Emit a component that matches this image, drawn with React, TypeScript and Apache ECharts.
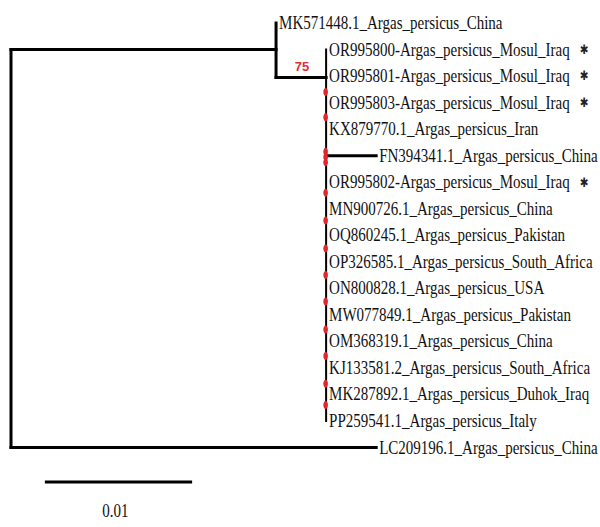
import React, { useEffect, useRef } from "react";
import * as echarts from "echarts";

// ---- Tree data ----
const tipNames = [
  "MK571448.1_Argas_persicus_China",
  "OR995800-Argas_persicus_Mosul_Iraq",
  "OR995801-Argas_persicus_Mosul_Iraq",
  "OR995803-Argas_persicus_Mosul_Iraq",
  "KX879770.1_Argas_persicus_Iran",
  "FN394341.1_Argas_persicus_China",
  "OR995802-Argas_persicus_Mosul_Iraq",
  "MN900726.1_Argas_persicus_China",
  "OQ860245.1_Argas_persicus_Pakistan",
  "OP326585.1_Argas_persicus_South_Africa",
  "ON800828.1_Argas_persicus_USA",
  "MW077849.1_Argas_persicus_Pakistan",
  "OM368319.1_Argas_persicus_China",
  "KJ133581.2_Argas_persicus_South_Africa",
  "MK287892.1_Argas_persicus_Duhok_Iraq",
  "PP259541.1_Argas_persicus_Italy",
  "LC209196.1_Argas_persicus_China",
];
const tipParent = ["A", "B", "B", "B", "B", "B", "B", "B", "B", "B", "B", "B", "B", "B", "B", "B", "root"];
const tipBranch = [0, 0, 0, 0, 0, 0.0034, 0, 0, 0, 0, 0, 0, 0, 0, 0, 0, 0.0248];
const tipMarked = [false, true, true, true, false, false, true, false, false, false, false, false, false, false, false, false, false];

const nodeIds = ["root", "A", "B"];
const nodeParent = [null, "root", "A"];
const nodeBranch = [0, 0.018, 0.0034];
const nodeRow = [8.5, 1.0, 2.05];
const nodeSupport = [null, null, 75];

// tiny, unreadable support marks along clade B
const minorSupportRows = [2.6, 3.55, 4.85, 5.05, 5.25, 6.4, 7.45, 8.5, 9.5, 10.5, 11.55, 12.55, 13.6, 14.4];

const scaleBarLength = 0.01;
const scaleBarLabel = "0.01";
const scaleBarStart = 0.0023;
const scaleBarRow = 17.3;

const SERIF = "'Liberation Serif', 'Times New Roman', serif";
const ROW = 27.3;

export default function App() {
  const ref = useRef<HTMLDivElement>(null);

  useEffect(() => {
    if (!ref.current) return;
    const chart = echarts.init(ref.current, null, { renderer: "svg" });

    const nodeX: Record<string, number> = {};
    nodeIds.forEach((id, i) => {
      const p = nodeParent[i];
      nodeX[id] = (p ? nodeX[p] : 0) + nodeBranch[i];
    });
    const tipX = tipNames.map((_, i) => nodeX[tipParent[i]] + tipBranch[i]);

    const segments: number[][] = [];
    tipNames.forEach((_, i) => {
      if (tipBranch[i] > 0) segments.push([nodeX[tipParent[i]], i, tipX[i], i, 3]);
    });
    nodeIds.forEach((id, i) => {
      const p = nodeParent[i];
      if (p) segments.push([nodeX[p], nodeRow[i], nodeX[id], nodeRow[i], 3]);
      const rows: number[] = [];
      tipParent.forEach((tp, t) => { if (tp === id) rows.push(t); });
      nodeParent.forEach((np, k) => { if (np === id) rows.push(nodeRow[k]); });
      segments.push([nodeX[id], Math.min(...rows), nodeX[id], Math.max(...rows), id === "B" ? 2 : 3]);
    });

    const supports: (number | string)[][] = [];
    nodeIds.forEach((id, i) => {
      const s = nodeSupport[i];
      const p = nodeParent[i];
      if (s != null && p) supports.push([(nodeX[p] + nodeX[id]) / 2, nodeRow[i], s]);
    });

    const labels = tipNames.map((n, i) => [tipX[i], i, i]);

    chart.setOption({
      animation: false,
      grid: { left: 11, top: 23, width: 592, height: 19 * ROW },
      xAxis: { type: "value", min: 0, max: 0.04, show: false },
      yAxis: { type: "value", min: 0, max: 19, inverse: true, show: false },
      series: [
        {
          type: "custom",
          data: segments,
          encode: { x: [0, 2], y: [1, 3] },
          renderItem: (params: any, api: any) => {
            const a = api.coord([api.value(0), api.value(1)]);
            const b = api.coord([api.value(2), api.value(3)]);
            return {
              type: "line",
              shape: { x1: a[0], y1: a[1], x2: b[0], y2: b[1] },
              style: { stroke: "#000", lineWidth: api.value(4), lineCap: "square" },
            };
          },
        },
        {
          type: "custom",
          data: minorSupportRows.map((r) => [nodeX["B"], r]),
          encode: { x: 0, y: 1 },
          renderItem: (params: any, api: any) => {
            const c = api.coord([api.value(0), api.value(1)]);
            return {
              type: "ellipse",
              shape: { cx: c[0] - 0.5, cy: c[1], rx: 2.3, ry: 4 },
              style: { fill: "#e3262c" },
            };
          },
        },
        {
          type: "custom",
          data: supports,
          encode: { x: 0, y: 1 },
          renderItem: (params: any, api: any) => {
            const c = api.coord([api.value(0), api.value(1)]);
            return {
              type: "text",
              x: c[0] + 1,
              y: c[1] - 4,
              style: {
                text: String(api.value(2)),
                font: "bold 13px 'Liberation Sans', Arial, sans-serif",
                fill: "#e03036",
                align: "center",
                verticalAlign: "bottom",
              },
            };
          },
        },
        {
          type: "custom",
          data: labels,
          encode: { x: 0, y: 1 },
          renderItem: (params: any, api: any) => {
            const i = api.value(2);
            const c = api.coord([api.value(0), api.value(1)]);
            const txt = "{n|" + tipNames[i] + "}" + (tipMarked[i] ? "{s|✱}" : "");
            return {
              type: "text",
              x: c[0] + 3,
              y: c[1],
              scaleX: 0.79,
              style: {
                text: txt,
                align: "left",
                verticalAlign: "middle",
                rich: {
                  n: { fontFamily: SERIF, fontSize: 19, fill: "#111" },
                  s: { fontFamily: "'DejaVu Sans', sans-serif", fontSize: 13, fill: "#222", padding: [0, 0, 0, 13] },
                },
              },
            };
          },
        },
        {
          type: "custom",
          data: [[scaleBarStart, scaleBarRow, scaleBarLength]],
          encode: { x: 0, y: 1 },
          renderItem: (params: any, api: any) => {
            const a = api.coord([api.value(0), api.value(1)]);
            const b = api.coord([api.value(0) + api.value(2), api.value(1)]);
            return {
              type: "group",
              children: [
                {
                  type: "line",
                  shape: { x1: a[0], y1: a[1], x2: b[0], y2: b[1] },
                  style: { stroke: "#000", lineWidth: 3 },
                },
                {
                  type: "text",
                  x: (a[0] + b[0]) / 2 - 3,
                  y: a[1] + 29,
                  scaleX: 0.79,
                  style: {
                    text: scaleBarLabel,
                    font: "19px " + SERIF,
                    fill: "#111",
                    align: "center",
                    verticalAlign: "middle",
                  },
                },
              ],
            };
          },
        },
      ],
    });
    return () => chart.dispose();
  }, []);

  return (
    <div
      ref={ref}
      style={{ position: "fixed", left: 0, top: 0, width: 600, height: 527, background: "#fff" }}
    />
  );
}
